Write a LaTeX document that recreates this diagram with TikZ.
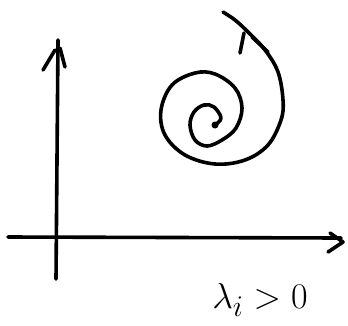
\documentclass[tikz,border=0pt]{standalone}
\begin{document}
\begin{tikzpicture}[x=1pt,y=-1pt,
  ink/.style={line width=3.6pt,line cap=round,line join=round,black},
  lbl/.style={font=\Huge,inner sep=0pt}]
\useasboundingbox (0,0) rectangle (348,325);
% axes
\coordinate (ytop) at (58,40);
\coordinate (ybot) at (56,279);
\coordinate (xl) at (8,237);
\coordinate (xr) at (341,238);
\draw[ink] (ybot) -- (ytop);
\draw[ink] (43,70) -- (55,50);
\draw[ink] (60,48) -- (65,67);
\draw[ink] (xl) -- (xr);
\draw[ink] (330,233) -- (343,242) -- (328,252);
% spiral
\fill (215,125) circle (3.5pt);
\draw[ink] plot[smooth,tension=0.6] coordinates {
 (215,125) (221,118) (214,107) (204,105) (194,112) (190,125) (195,140)
 (207,146) (222,140) (236,128) (242,108) (235,88) (215,74) (195,73)
 (172,85) (161,110) (165,135) (185,155) (215,164) (245,160) (268,145)
 (281,120) (283,100) (278,72) (265,50) (248,32) (235,20) (223,12)};
\draw[ink] (240,53) -- (244,33);
\draw[ink] (252,37) -- (268,52);
% label
\node[lbl] (lab) at (260,300) {\scalebox{1.45}{$\lambda_i > 0$}};
\end{tikzpicture}
\end{document}
